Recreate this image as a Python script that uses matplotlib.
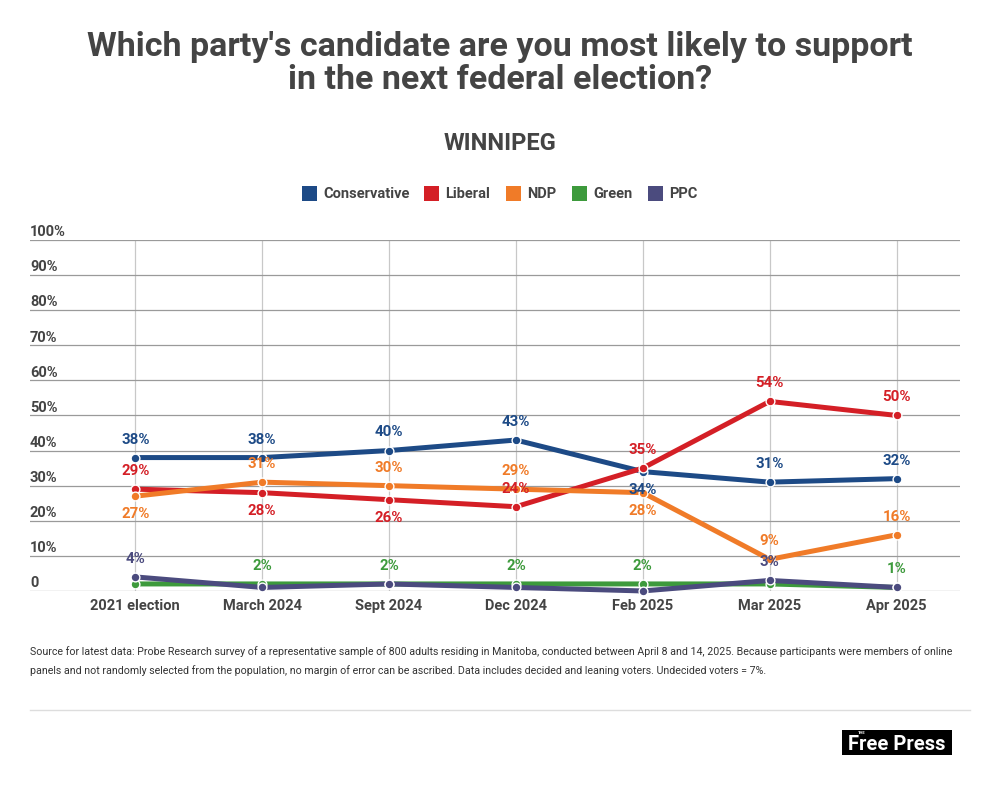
import matplotlib.pyplot as plt
from matplotlib.patches import Rectangle

plt.rcParams['font.family'] = ['Roboto', 'DejaVu Sans']

periods = ['2021 election', 'March 2024', 'Sept 2024', 'Dec 2024',
           'Feb 2025', 'Mar 2025', 'Apr 2025']
parties = ['Conservative', 'Liberal', 'NDP', 'Green', 'PPC']
conservative = [38, 38, 40, 43, 34, 31, 32]
liberal = [29, 28, 26, 24, 35, 54, 50]
ndp = [27, 31, 30, 29, 28, 9, 16]
green = [2, 2, 2, 2, 2, 2, 1]
ppc = [4, 1, 2, 1, 0, 3, 1]
yticks = [0, 10, 20, 30, 40, 50, 60, 70, 80, 90, 100]

colors = ['#1d4a86', '#d41f26', '#f07b28', '#3d9a3c', '#4b4b7e']
series = [conservative, liberal, ndp, green, ppc]

# which labels are shown, and above (1) or below (-1) the point
label_pos = {
    'Conservative': [1, 1, 1, 1, -1, 1, 1],
    'Liberal': [1, -1, -1, 1, 1, 1, 1],
    'NDP': [-1, 1, 1, 1, -1, 1, 1],
    'Green': [0, 1, 1, 1, 1, 0, 1],
    'PPC': [1, 0, 0, 0, 0, 1, 0],
}

fig = plt.figure(figsize=(10, 7.89), dpi=100)
ax = fig.add_axes([0.03, 0.251, 0.93, 0.4449])

x = list(range(len(periods)))
for name, vals, c in zip(parties, series, colors):
    ax.plot(x, vals, color=c, lw=3.6, solid_capstyle='round', zorder=3,
            clip_on=False)
    ax.scatter(x, vals, s=40, color=c, edgecolor='white', linewidth=1.0,
               zorder=4, clip_on=False)
    for i, v in enumerate(vals):
        p = label_pos[name][i]
        if p == 0:
            continue
        ax.annotate(f'{v}%', (i, v), xytext=(0, 13 * p), textcoords='offset points',
                    ha='center', va='center', fontsize=10.8, fontweight='bold',
                    color=c, zorder=5)

ax.set_xlim(-0.83, 6.5)
ax.set_ylim(0, 100)
for t in yticks:
    ax.axhline(t, color='#9a9a9a', lw=0.9, zorder=1)
    ax.text(0.0, t + 0.2, '0' if t == 0 else f'{t}%', transform=ax.get_yaxis_transform(),
            ha='left', va='bottom', fontsize=10.5, fontweight='bold', color='#444444')
for i in x:
    ax.axvline(i, color='#c8c8c8', lw=0.9, zorder=0)

ax.set_xticks(x)
ax.set_xticklabels(periods, fontsize=10.5, fontweight='bold', color='#444444')
ax.tick_params(axis='x', length=0, pad=6)
ax.set_yticks([])
for s in ax.spines.values():
    s.set_visible(False)

fig.text(0.5, 0.9195, "Which party's candidate are you most likely to support\nin the next federal election?",
         ha='center', va='center', fontsize=24.5, fontweight='bold', color='#444444',
         linespacing=1.02)
fig.text(0.5, 0.818, 'WINNIPEG', ha='center', va='center', fontsize=17,
         fontweight='bold', color='#444444')

# legend
lx = [0.302, 0.424, 0.506, 0.572, 0.648]
for name, c, xx in zip(parties, colors, lx):
    fig.patches.append(Rectangle((xx, 0.745), 0.015, 0.019, transform=fig.transFigure,
                                 facecolor=c, edgecolor='none'))
    fig.text(xx + 0.021, 0.7545, name, ha='left', va='center', fontsize=10.5,
             fontweight='bold', color='#444444')

fig.text(0.03, 0.162,
         'Source for latest data: Probe Research survey of a representative sample of 800 adults residing in Manitoba, '
         'conducted between April 8 and 14, 2025. Because participants were members of online\n'
         'panels and not randomly selected from the population, no margin of error can be ascribed. '
         'Data includes decided and leaning voters. Undecided voters = 7%.',
         ha='left', va='center', fontsize=7.7, color='#333333', linespacing=1.9)

fig.add_artist(plt.Line2D([0.03, 0.97], [0.1, 0.1], transform=fig.transFigure,
                          color='#dddddd', lw=1))
fig.patches.append(Rectangle((0.842, 0.043), 0.110, 0.032, transform=fig.transFigure,
                             facecolor='black', edgecolor='none'))
fig.text(0.897, 0.057, 'Free Press', ha='center', va='center', fontsize=14.5,
         fontweight='bold', color='white', fontstretch='condensed')
fig.text(0.862, 0.0705, 'THE', ha='center', va='center', fontsize=3,
         fontweight='bold', color='white')

fig.savefig('out.png', dpi=100, facecolor='white')
